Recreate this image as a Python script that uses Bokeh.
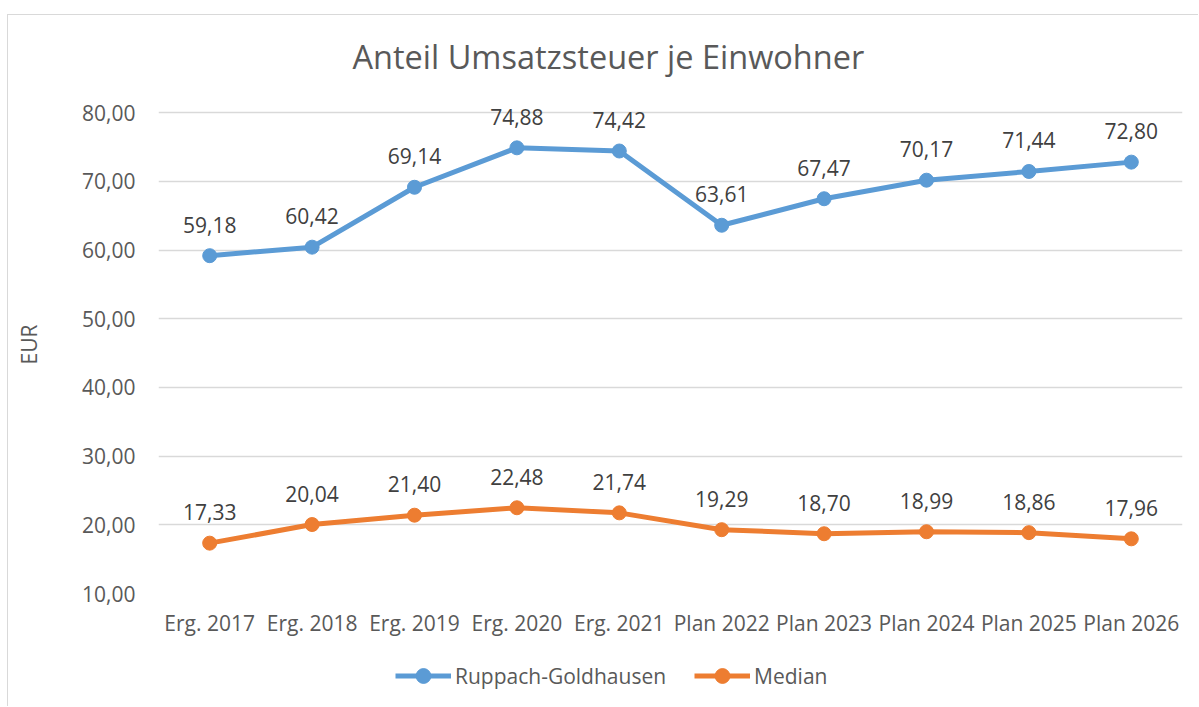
from bokeh.plotting import figure
from bokeh.layouts import column
from bokeh.models import ColumnDataSource, LabelSet, Legend, LegendItem, FixedTicker, Range1d
from bokeh.core.properties import value
from bokeh.embed import file_html
from bokeh.resources import INLINE

categories = ["Erg. 2017", "Erg. 2018", "Erg. 2019", "Erg. 2020", "Erg. 2021",
              "Plan 2022", "Plan 2023", "Plan 2024", "Plan 2025", "Plan 2026"]
ruppach = [59.18, 60.42, 69.14, 74.88, 74.42, 63.61, 67.47, 70.17, 71.44, 72.80]
median = [17.33, 20.04, 21.40, 22.48, 21.74, 19.29, 18.70, 18.99, 18.86, 17.96]
y_ticks = [10, 20, 30, 40, 50, 60, 70, 80]
y_bounds = (10, 82.5)   # axis from 10; headroom above 80 for the data labels
series_names = ["Ruppach-Goldhausen", "Median"]

BLUE = "#5B9BD5"
ORANGE = "#ED7D31"
FONT = "Open Sans"
FS = "21px"
BORDER = "1px solid #d9d9d9"


def fmt(v):
    return f"{v:.2f}".replace(".", ",")


p = figure(x_range=categories, y_range=Range1d(*y_bounds), width=1191, height=635,
           output_backend="svg", toolbar_location=None,
           min_border_left=150, min_border_right=17, min_border_top=80, min_border_bottom=57)
p.styles = {"border-left": BORDER, "border-top": BORDER}
p.x_range.range_padding = 0
p.outline_line_color = None

p.title.text = "Anteil Umsatzsteuer je Einwohner"
p.title.align = "left"
p.title.offset = 194
p.title.text_font = FONT
p.title.text_font_size = "32.5px"
p.title.text_font_style = "normal"
p.title.text_color = "#595959"
p.title.standoff = 33

p.xgrid.grid_line_color = None
p.ygrid.grid_line_color = "#d9d9d9"
p.ygrid.grid_line_width = 1.3

p.yaxis.ticker = FixedTicker(ticks=y_ticks)
p.yaxis.major_label_overrides = {t: fmt(t) for t in y_ticks}
p.yaxis.axis_label = "EUR"
p.yaxis.axis_label_text_font = FONT
p.yaxis.axis_label_text_font_size = FS
p.yaxis.axis_label_text_font_style = "normal"
p.yaxis.axis_label_text_color = "#595959"
p.yaxis.axis_label_standoff = 36

for ax in (p.xaxis[0], p.yaxis[0]):
    ax.axis_line_color = None
    ax.major_tick_line_color = None
    ax.minor_tick_line_color = None
    ax.major_label_text_font = FONT
    ax.major_label_text_font_size = FS
    ax.major_label_text_color = "#595959"
p.yaxis.major_label_standoff = 17
p.xaxis.major_label_standoff = 9

src = ColumnDataSource(dict(x=categories, r=ruppach, m=median,
                            rl=[fmt(v) for v in ruppach], ml=[fmt(v) for v in median]))

p.line("x", "r", source=src, line_color=BLUE, line_width=5)
p.scatter("x", "r", source=src, size=14, fill_color=BLUE, line_color=BLUE)
p.line("x", "m", source=src, line_color=ORANGE, line_width=5)
p.scatter("x", "m", source=src, size=14, fill_color=ORANGE, line_color=ORANGE)

for col, lab in (("r", "rl"), ("m", "ml")):
    p.add_layout(LabelSet(x="x", y=col, text=lab, source=src, y_offset=23,
                          text_align="center", text_baseline="bottom",
                          text_font=value(FONT), text_font_size=value(FS), text_color="#404040"))

# legend strip below the chart (same series, plotted outside its visible range)
lf = figure(width=1191, height=57, x_range=categories, y_range=Range1d(1000, 1001),
            output_backend="svg", toolbar_location=None,
            x_axis_location=None, y_axis_location=None,
            min_border_left=0, min_border_right=0, min_border_top=0, min_border_bottom=0)
lf.styles = {"border-left": BORDER}
lf.grid.visible = False
lf.outline_line_color = None
items = []
for name, col, color in zip(series_names, ("r", "m"), (BLUE, ORANGE)):
    lr = lf.line("x", col, source=src, line_color=color, line_width=5)
    sr = lf.scatter("x", col, source=src, size=14, fill_color=color, line_color=color)
    items.append(LegendItem(label=name, renderers=[lr, sr]))
legend = Legend(items=items, location=(237, 12), orientation="horizontal",
                glyph_width=56, glyph_height=37, label_height=37, label_standoff=4,
                spacing=28, padding=0, margin=0,
                border_line_color=None, background_fill_alpha=0,
                label_text_font=FONT, label_text_font_size=FS, label_text_color="#595959")
lf.add_layout(legend, "center")

layout = column(p, lf, spacing=0)
layout.margin = (14, 0, 0, 7)

open("out.html", "w").write(file_html(layout, INLINE))
